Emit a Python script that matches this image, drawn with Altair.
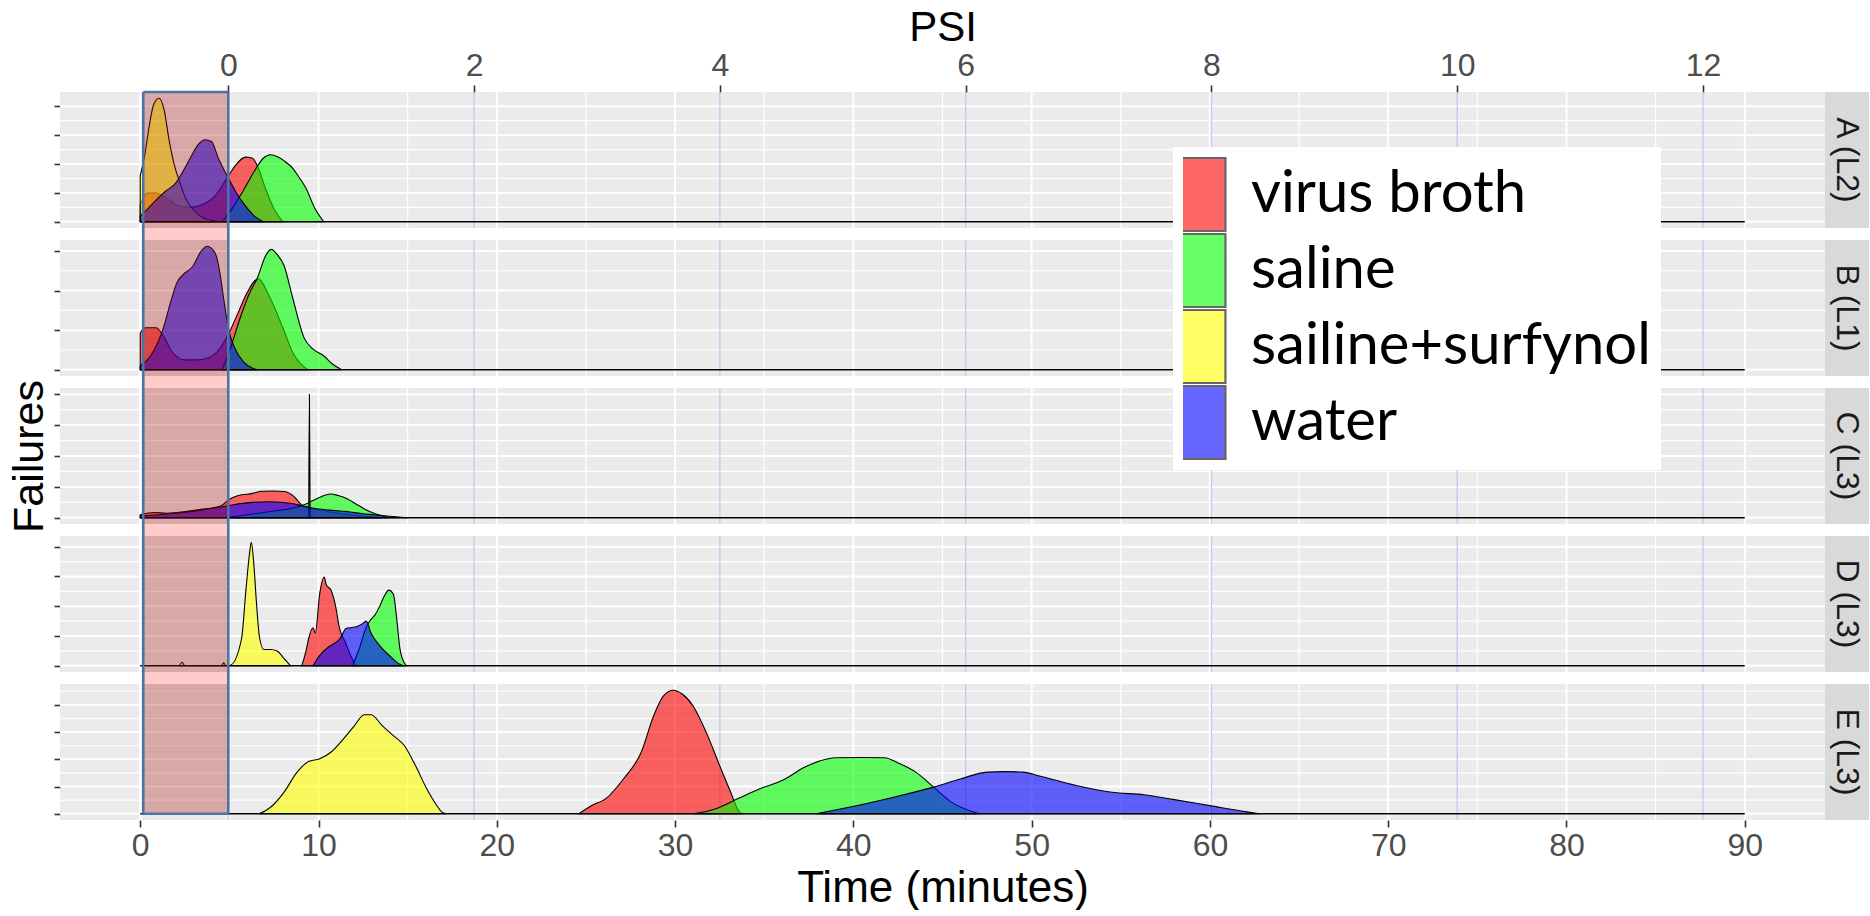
import altair as alt
import pandas as pd

# ---- categories -------------------------------------------------------------
groups = ["virus broth", "saline", "sailine+surfynol", "water"]
group_colors = ["#FF0000", "#00FF00", "#FFFF00", "#0000FF"]
panels = ["A (L2)", "B (L1)", "C (L3)", "D (L3)", "E (L3)"]

# ---- axes -------------------------------------------------------------------
time_range = [0, 90]                       # minutes covered by the densities
time_ticks = [0, 10, 20, 30, 40, 50, 60, 70, 80, 90]
psi_ticks = [0, 2, 4, 6, 8, 10, 12]
ramp_start = 4.94                          # minute at which pressure starts (0 PSI)
minutes_per_psi = 6.893                    # pressure ramp
window_start = 0.17                        # start of the shaded start-up window

# ---- failure densities (time in minutes, density in axis units) -------------
a_broth_t = [0, 0.4, 0.9, 1.5, 2.2, 2.8, 3.5, 4.2, 4.9, 5.4, 5.9, 6.3, 6.6, 7.0, 7.5, 8.0]
a_broth_y = [0.6, 1.0, 1.0, 0.8, 0.55, 0.5, 0.6, 0.9, 1.55, 2.0, 2.24, 2.2, 1.9, 1.2, 0.45, 0.0]
a_saline_t = [4.6, 5.2, 5.8, 6.4, 6.9, 7.3, 7.7, 8.1, 8.56, 8.9, 9.3, 9.8, 10.3]
a_saline_y = [0.0, 0.5, 1.1, 1.75, 2.2, 2.32, 2.25, 2.1, 1.85, 1.55, 1.16, 0.46, 0.0]
a_surf_t = [0, 0.25, 0.5, 0.75, 1.05, 1.35, 1.6, 1.9, 2.2, 2.6, 3.0, 3.5, 4.0, 4.5]
a_surf_y = [1.6, 2.3, 3.3, 4.05, 4.28, 3.85, 2.9, 2.0, 1.4, 0.75, 0.4, 0.15, 0.05, 0.0]
a_water_t = [0, 0.26, 0.8, 1.4, 2.0, 2.4, 2.8, 3.25, 3.63, 4.0, 4.38, 4.75, 5.0, 5.4, 5.9, 6.4, 6.9]
a_water_y = [0.2, 0.35, 0.7, 1.05, 1.35, 1.75, 2.2, 2.67, 2.84, 2.78, 2.2, 1.74, 1.45, 1.0, 0.55, 0.2, 0.0]

b_broth_t = [0, 0.3, 0.9, 1.3, 1.8, 2.5, 3.2, 3.8, 4.4, 5.0, 5.5, 6.0, 6.6, 7.3, 8.0, 8.6, 9.4]
b_broth_y = [0.93, 1.06, 1.06, 0.85, 0.45, 0.25, 0.25, 0.3, 0.5, 0.95, 1.45, 1.95, 2.3, 1.8, 1.06, 0.4, 0.0]
b_saline_t = [4.6, 5.1, 5.6, 6.1, 6.6, 7.0, 7.36, 7.7, 8.06, 8.56, 9.2, 9.7, 10.3, 10.8, 11.3]
b_saline_y = [0.0, 0.6, 1.3, 1.9, 2.35, 2.85, 3.04, 2.9, 2.64, 1.8, 0.8, 0.52, 0.35, 0.14, 0.0]
b_water_t = [0, 0.5, 1.0, 1.3, 1.7, 2.06, 2.4, 2.93, 3.43, 3.75, 4.2, 4.45, 4.68, 4.94, 5.3, 5.8, 6.3, 6.6]
b_water_y = [0.1, 0.3, 0.7, 1.06, 1.7, 2.2, 2.4, 2.6, 3.0, 3.12, 2.95, 2.5, 1.8, 1.05, 0.55, 0.2, 0.04, 0.0]

c_broth_t = [0, 0.8, 1.5, 2.5, 3.5, 4.5, 5.0, 5.5, 6.3, 6.8, 7.5, 8.1, 8.6, 9.05, 9.6, 10.5, 11.5, 12.5, 13.5]
c_broth_y = [0.1, 0.17, 0.15, 0.2, 0.28, 0.38, 0.6, 0.72, 0.79, 0.86, 0.87, 0.85, 0.7, 0.42, 0.3, 0.2, 0.12, 0.06, 0.0]
c_saline_t = [4.8, 6.0, 7.5, 8.6, 9.3, 9.9, 10.4, 10.7, 11.1, 11.6, 12.1, 12.5, 13.0, 13.35, 13.9]
c_saline_y = [0.0, 0.1, 0.22, 0.32, 0.45, 0.62, 0.74, 0.77, 0.72, 0.62, 0.45, 0.31, 0.17, 0.1, 0.0]
c_surf_t = [9.45, 9.49, 9.53]
c_surf_y = [0.0, 4.0, 0.0]
c_water_t = [0, 1.0, 2.0, 3.0, 4.0, 4.94, 5.5, 6.3, 7.3, 8.4, 9.0, 9.7, 10.6, 11.6, 12.4, 13.1, 14.0, 15.0]
c_water_y = [0.06, 0.1, 0.15, 0.21, 0.3, 0.39, 0.45, 0.5, 0.52, 0.47, 0.4, 0.31, 0.25, 0.2, 0.14, 0.1, 0.05, 0.0]

d_broth_t = [9.06, 9.3, 9.44, 9.69, 9.82, 10.07, 10.32, 10.44, 10.69, 10.94, 11.19, 11.5, 11.8, 12.1]
d_broth_y = [0.0, 0.5, 0.9, 1.28, 1.1, 2.43, 2.98, 2.71, 2.55, 2.05, 1.23, 0.8, 0.35, 0.0]
d_saline_t = [11.9, 12.3, 12.68, 12.93, 13.18, 13.43, 13.7, 13.94, 14.2, 14.4, 14.56, 14.81, 14.94]
d_saline_y = [0.0, 0.6, 1.3, 1.55, 1.72, 2.0, 2.35, 2.54, 2.4, 1.5, 0.6, 0.1, 0.0]
d_surf_t = [2.2, 2.35, 2.5, 4.55, 4.68, 4.8, 5.06, 5.68, 5.93, 6.13, 6.23, 6.36, 6.51, 6.68, 6.93, 7.31, 7.68, 8.06, 8.43]
d_surf_y = [0.0, 0.12, 0.0, 0.0, 0.1, 0.0, 0.02, 0.9, 2.55, 3.77, 4.15, 3.5, 2.2, 1.0, 0.55, 0.55, 0.5, 0.25, 0.0]
d_water_t = [9.69, 10.07, 10.6, 11.19, 11.56, 12.06, 12.43, 12.68, 12.93, 13.43, 14.06, 14.56, 14.8]
d_water_y = [0.0, 0.35, 0.65, 0.9, 1.26, 1.3, 1.4, 1.5, 1.12, 0.68, 0.3, 0.05, 0.0]

e_broth_t = [24.6, 25.3, 26.1, 27.1, 28.1, 28.8, 29.35, 29.9, 30.4, 31.0, 31.75, 32.5, 33.12, 33.5, 33.7]
e_broth_y = [0.0, 0.3, 0.55, 1.28, 2.26, 3.6, 4.33, 4.54, 4.4, 3.97, 2.99, 1.77, 0.79, 0.18, 0.0]
e_saline_t = [31.0, 32.25, 33.5, 34.75, 36.0, 37.26, 38.51, 39.0, 40.5, 41.76, 42.5, 43.5, 44.5, 45.5, 46.5, 47.1]
e_saline_y = [0.0, 0.18, 0.55, 0.92, 1.22, 1.71, 2.01, 2.06, 2.07, 2.06, 1.87, 1.53, 0.98, 0.43, 0.12, 0.0]
e_surf_t = [6.68, 7.31, 8.06, 8.8, 9.44, 10.07, 10.69, 11.32, 11.95, 12.57, 12.95, 13.57, 14.2, 14.82, 15.44, 16.07, 16.57, 16.95, 17.2]
e_surf_y = [0.0, 0.24, 0.79, 1.53, 1.92, 2.02, 2.26, 2.69, 3.18, 3.64, 3.64, 3.24, 2.87, 2.5, 1.77, 0.92, 0.37, 0.05, 0.0]
e_water_t = [37.9, 39.76, 42.26, 44.5, 46.0, 47.5, 48.5, 49.5, 50.5, 52.5, 54.5, 56.3, 58.0, 60.0, 62.0, 62.8]
e_water_y = [0.0, 0.24, 0.61, 0.98, 1.28, 1.53, 1.55, 1.53, 1.38, 1.04, 0.79, 0.7, 0.52, 0.3, 0.08, 0.0]

panel_series = {
    "A (L2)": [("virus broth", a_broth_t, a_broth_y), ("saline", a_saline_t, a_saline_y),
               ("sailine+surfynol", a_surf_t, a_surf_y), ("water", a_water_t, a_water_y)],
    "B (L1)": [("virus broth", b_broth_t, b_broth_y), ("saline", b_saline_t, b_saline_y),
               ("water", b_water_t, b_water_y)],
    "C (L3)": [("virus broth", c_broth_t, c_broth_y), ("saline", c_saline_t, c_saline_y),
               ("sailine+surfynol", c_surf_t, c_surf_y), ("water", c_water_t, c_water_y)],
    "D (L3)": [("virus broth", d_broth_t, d_broth_y), ("saline", d_saline_t, d_saline_y),
               ("sailine+surfynol", d_surf_t, d_surf_y), ("water", d_water_t, d_water_y)],
    "E (L3)": [("virus broth", e_broth_t, e_broth_y), ("saline", e_saline_t, e_saline_y),
               ("sailine+surfynol", e_surf_t, e_surf_y), ("water", e_water_t, e_water_y)],
}

# ---- layout / style ----------------------------------------------------------
W, H, GAP, STRIP = 1765, 136, 12, 44
FONT = "Liberation Sans"
EDGE = "#4A74A4"
pad_x = 0.05 * (time_range[1] - time_range[0])
xscale = alt.Scale(domain=[time_range[0] - pad_x, time_range[1] + pad_x], nice=False, zero=False)
color_scale = alt.Scale(domain=groups, range=group_colors)
one = pd.DataFrame({"k": [0]})

# legend keys: tall swatches set to the left of their layout slot
legend_def = alt.Legend(orient="none", legendX=1113, legendY=55, title=None,
                        direction="vertical", values=groups,
                        symbolType="M-1.09,-1.123H0.26V1.123H-1.09Z", symbolSize=4225,
                        symbolStrokeColor="black", symbolStrokeWidth=2.2,
                        symbolOpacity=0.6, labelFont="Lato", labelFontSize=58,
                        labelColor="black", labelOffset=0, rowPadding=1, clipHeight=75,
                        labelLimit=0, fillColor="white", padding=10)


def make_panel(idx, name):
    series = panel_series[name]
    first, last = idx == 0, idx == len(panels) - 1
    top = max(max(ys) for _, _, ys in series)
    y_lo, y_hi = -0.05 * top, 1.05 * top
    yscale = alt.Scale(domain=[y_lo, y_hi], nice=False, zero=False)
    major_y = list(range(0, int(top) + 1))
    minor_y = [k * 0.5 for k in range(1, int(y_hi * 2) + 1, 2)]
    minor_x = [t + 5 for t in time_ticks[:-1]]
    psi_times = [ramp_start + minutes_per_psi * p for p in psi_ticks]

    if idx == 2:
        y_axis = alt.Axis(values=major_y, labels=False, ticks=True, tickSize=6, tickWidth=1.6,
                          tickColor="#333333", domain=False, grid=False,
                          title="Failures", titleFontSize=43, titleFont=FONT,
                          titleFontWeight="normal", titleColor="black", titlePadding=2)
    else:
        y_axis = alt.Axis(values=major_y, labels=False, ticks=True, tickSize=6, tickWidth=1.6,
                          tickColor="#333333", domain=False, grid=False, title=None)
    if first:
        x_axis = alt.Axis(orient="top", values=psi_times, domain=False, grid=False,
                          labelExpr=f"format((datum.value - {ramp_start}) / {minutes_per_psi}, '.0f')",
                          tickSize=7, tickWidth=1.6, tickColor="#333333", labelPadding=3,
                          labelFontSize=32, labelFont=FONT, labelColor="#4D4D4D",
                          title="PSI", titleFontSize=42, titleFont=FONT,
                          titleFontWeight="normal", titleColor="black", titlePadding=0)
    elif last:
        x_axis = alt.Axis(orient="bottom", values=time_ticks, domain=False, grid=False,
                          tickSize=7, tickWidth=1.6, tickColor="#333333", labelPadding=3,
                          labelFontSize=32, labelFont=FONT, labelColor="#4D4D4D",
                          title="Time (minutes)", titleFontSize=44, titleFont=FONT,
                          titleFontWeight="normal", titleColor="black", titlePadding=5)
    else:
        x_axis = None

    def X(field, **kw):
        return alt.X(field, scale=xscale, axis=x_axis, **kw)

    def Y(field, **kw):
        return alt.Y(field, scale=yscale, axis=y_axis, **kw)

    layers = []
    # panel grid
    layers.append(alt.Chart(pd.DataFrame({"v": minor_y})).mark_rule(color="white", strokeWidth=1.2)
                  .encode(y=Y("v:Q")))
    layers.append(alt.Chart(pd.DataFrame({"v": major_y})).mark_rule(color="white", strokeWidth=2)
                  .encode(y=Y("v:Q")))
    layers.append(alt.Chart(pd.DataFrame({"t": minor_x})).mark_rule(color="white", strokeWidth=1.2)
                  .encode(x=X("t:Q")))
    layers.append(alt.Chart(pd.DataFrame({"t": time_ticks})).mark_rule(color="white", strokeWidth=2)
                  .encode(x=X("t:Q")))
    # pressure marks
    layers.append(alt.Chart(pd.DataFrame({"t": psi_times})).mark_rule(color="#C6C6F2", strokeWidth=1.3)
                  .encode(x=X("t:Q")))

    # densities, drawn in factor order
    for g, ts, ys in series:
        df = pd.DataFrame({"group": g, "t": ts, "v": ys, "base": 0.0})
        layers.append(
            alt.Chart(df).mark_area(fillOpacity=0.6, stroke="black", strokeWidth=1.1,
                                    interpolate="monotone")
            .encode(x=X("t:Q"), y=Y("v:Q"), y2="base:Q",
                    color=alt.Color("group:N", scale=color_scale, legend=legend_def)))

    # density floor over the full time range
    floor = pd.DataFrame({"t": [time_range[0]], "t1": [time_range[1]], "v": [0.0]})
    layers.append(alt.Chart(floor).mark_rule(color="black", strokeWidth=1.4)
                  .encode(x=X("t:Q"), x2="t1:Q", y=Y("v:Q")))

    # shaded start-up window
    win = pd.DataFrame({"t": [window_start], "end": [ramp_start],
                        "v": [0.0 if last else y_lo], "hi": [y_hi]})
    if not last:
        layers.append(alt.Chart(win).mark_rect(fill="#FFCBCB", clip=False)
                      .encode(x=X("t:Q"), x2="end:Q", y=alt.value(H), y2=alt.value(H + GAP)))
    layers.append(alt.Chart(win).mark_rect(fill="#AC0C0C", opacity=0.3)
                  .encode(x=X("t:Q"), x2="end:Q", y=Y("v:Q"), y2="hi:Q"))
    edges = pd.DataFrame({"t": [window_start, ramp_start], "v": [0.0, 0.0], "hi": [y_hi, y_hi]})
    if last:
        layers.append(alt.Chart(edges).mark_rule(color=EDGE, strokeWidth=2.6)
                      .encode(x=X("t:Q"), y=Y("v:Q"), y2="hi:Q"))
        layers.append(alt.Chart(win).mark_rule(color=EDGE, strokeWidth=2.6)
                      .encode(x=X("t:Q"), x2="end:Q", y=Y("v:Q")))
    else:
        layers.append(alt.Chart(edges).mark_rule(color=EDGE, strokeWidth=2.6, clip=False)
                      .encode(x=X("t:Q"), y=alt.value(0), y2=alt.value(H + GAP)))
    if first:
        layers.append(alt.Chart(win).mark_rule(color=EDGE, strokeWidth=2.6, clip=False)
                      .encode(x=X("t:Q"), x2="end:Q", y=alt.value(0)))

    # facet strip
    layers.append(alt.Chart(one).mark_rect(fill="#D9D9D9", clip=False)
                  .encode(x=alt.value(W), x2=alt.value(W + STRIP), y=alt.value(0), y2=alt.value(H)))
    layers.append(alt.Chart(one).mark_text(angle=90, fontSize=32, font=FONT, color="#1A1A1A",
                                           clip=False)
                  .encode(x=alt.value(W + STRIP / 2), y=alt.value(H / 2), text=alt.value(name)))

    return alt.layer(*layers).properties(width=W, height=H)


views = [make_panel(i, p) for i, p in enumerate(panels)]

chart = (
    alt.vconcat(*views, spacing=GAP, bounds="flush")
    .properties(padding={"left": 8, "top": 6, "right": 0, "bottom": 0}, background="white")
    .configure_view(fill="#EBEBEB", stroke=None)
)

chart.save("out.html", embed_options={"renderer": "svg", "actions": False})
